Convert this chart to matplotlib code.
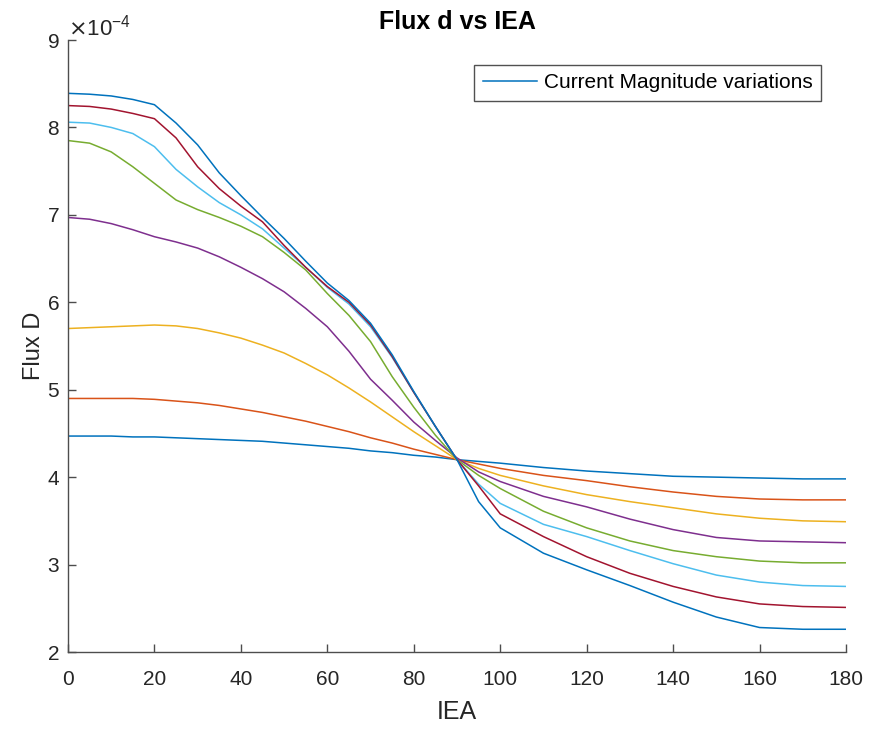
import matplotlib.pyplot as plt
from matplotlib.ticker import ScalarFormatter

plt.rcParams['font.family'] = ['Liberation Sans', 'DejaVu Sans']

# values read in units of 1e-4
iea = [0, 5, 10, 15, 20, 25, 30, 35, 40, 45, 50, 55, 60, 65, 70, 75, 80, 85, 90,
       95, 100, 110, 120, 130, 140, 150, 160, 170, 180]

flux_1 = [4.47, 4.47, 4.47, 4.46, 4.46, 4.45, 4.44, 4.43, 4.42, 4.41, 4.39, 4.37, 4.35, 4.33, 4.30, 4.28, 4.25, 4.23, 4.20,
          4.18, 4.16, 4.11, 4.07, 4.04, 4.01, 4.00, 3.99, 3.98, 3.98]
flux_2 = [4.90, 4.90, 4.90, 4.90, 4.89, 4.87, 4.85, 4.82, 4.78, 4.74, 4.69, 4.64, 4.58, 4.52, 4.45, 4.39, 4.32, 4.26, 4.20,
          4.15, 4.10, 4.02, 3.96, 3.89, 3.83, 3.78, 3.75, 3.74, 3.74]
flux_3 = [5.70, 5.71, 5.72, 5.73, 5.74, 5.73, 5.70, 5.65, 5.59, 5.51, 5.42, 5.30, 5.17, 5.02, 4.86, 4.69, 4.52, 4.36, 4.20,
          4.10, 4.02, 3.90, 3.80, 3.72, 3.65, 3.58, 3.53, 3.50, 3.49]
flux_4 = [6.97, 6.95, 6.90, 6.83, 6.75, 6.69, 6.62, 6.52, 6.40, 6.27, 6.12, 5.93, 5.72, 5.44, 5.12, 4.88, 4.63, 4.42, 4.22,
          4.06, 3.95, 3.78, 3.66, 3.52, 3.40, 3.31, 3.27, 3.26, 3.25]
flux_5 = [7.85, 7.82, 7.72, 7.55, 7.36, 7.17, 7.06, 6.97, 6.87, 6.75, 6.57, 6.37, 6.10, 5.85, 5.55, 5.15, 4.80, 4.48, 4.20,
          4.02, 3.87, 3.61, 3.42, 3.27, 3.16, 3.09, 3.04, 3.02, 3.02]
flux_6 = [8.06, 8.05, 8.00, 7.93, 7.78, 7.52, 7.32, 7.14, 7.00, 6.84, 6.62, 6.40, 6.17, 5.98, 5.72, 5.37, 4.97, 4.58, 4.20,
          3.92, 3.70, 3.46, 3.32, 3.16, 3.01, 2.88, 2.80, 2.76, 2.75]
flux_7 = [8.25, 8.24, 8.21, 8.16, 8.10, 7.88, 7.55, 7.30, 7.10, 6.92, 6.65, 6.40, 6.18, 6.00, 5.74, 5.38, 4.97, 4.58, 4.20,
          3.90, 3.58, 3.32, 3.09, 2.90, 2.75, 2.63, 2.55, 2.52, 2.51]
flux_8 = [8.39, 8.38, 8.36, 8.32, 8.26, 8.05, 7.80, 7.48, 7.22, 6.97, 6.73, 6.47, 6.22, 6.02, 5.76, 5.40, 4.98, 4.58, 4.20,
          3.72, 3.42, 3.13, 2.94, 2.76, 2.57, 2.40, 2.28, 2.26, 2.26]

series = [flux_1, flux_2, flux_3, flux_4, flux_5, flux_6, flux_7, flux_8]
colors = ['#0072BD', '#D95319', '#EDB120', '#7E2F8E', '#77AC30', '#4DBEEE', '#A2142F', '#0072BD']

fig = plt.figure(figsize=(8.69, 7.31), dpi=100)
ax = fig.add_axes([68 / 869, 1 - 652 / 731, (846 - 68) / 869, (652 - 40) / 731])

for i, (vals, c) in enumerate(zip(series, colors)):
    ax.plot(iea, [v * 1e-4 for v in vals], color=c, lw=1.1,
            label='Current Magnitude variations' if i == 0 else None)

ax.set_xlim(0, 180)
ax.set_ylim(2e-4, 9e-4)
ax.set_xticks(range(0, 181, 20))
ax.set_yticks([k * 1e-4 for k in range(2, 10)])

fmt = ScalarFormatter(useMathText=True)
fmt.set_powerlimits((-3, 3))
ax.yaxis.set_major_formatter(fmt)
ax.yaxis.get_offset_text().set_fontsize(16)
ax.yaxis.get_offset_text().set_color('#262626')

for s in ['top', 'right']:
    ax.spines[s].set_visible(False)
for s in ['left', 'bottom']:
    ax.spines[s].set_color('#4d4d4d')
    ax.spines[s].set_linewidth(1.0)
ax.tick_params(direction='in', length=6, width=1.0, color='#4d4d4d',
               labelsize=15, labelcolor='#262626')
ax.tick_params(axis='x', pad=13)
ax.tick_params(axis='y', pad=6)

ax.set_title('Flux d vs IEA', fontsize=18, fontweight='bold', color='black', pad=8)
ax.set_xlabel('IEA', fontsize=18, color='#262626', labelpad=8)
ax.set_ylabel('Flux D', fontsize=17, color='#262626', labelpad=1)

leg = ax.legend(loc='upper right', bbox_to_anchor=(0.968, 0.959), borderaxespad=0,
                fontsize=15, frameon=True, fancybox=False, edgecolor='#262626',
                handlelength=2.6, handletextpad=0.35)
leg.get_frame().set_linewidth(1.0)

fig.savefig('out.png', dpi=100)
